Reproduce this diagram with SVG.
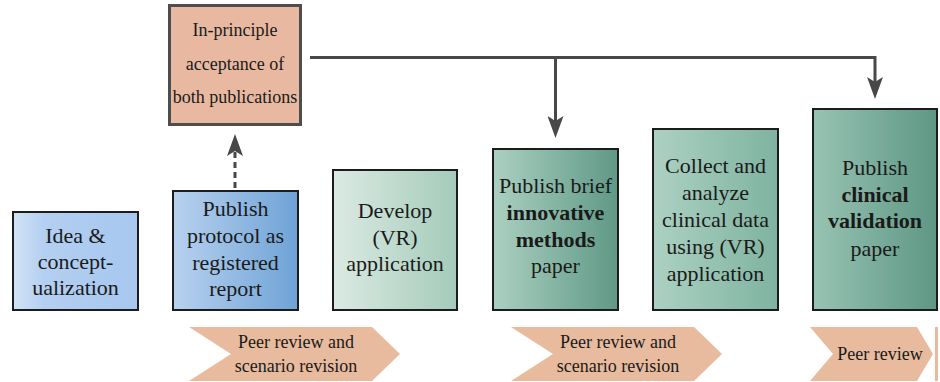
<svg xmlns="http://www.w3.org/2000/svg" width="940" height="382" viewBox="0 0 940 382">
<style>
.box{stroke:#1c1c1c;stroke-width:2}
.t{font-family:"Liberation Serif","Times New Roman",serif;font-size:22px;fill:#1a1a1a;text-anchor:middle}
.b{font-weight:bold}
.s{font-family:"Liberation Serif","Times New Roman",serif;font-size:18px;fill:#1a1a1a;text-anchor:middle}
.chev{fill:#e8bb9e}
.conn{fill:none;stroke:#484848;stroke-width:3}
</style>
<defs>
<linearGradient id="gIdea" x1="0" x2="1" y1="0" y2="0"><stop offset="0" stop-color="#d3e3f6"/><stop offset="0.25" stop-color="#b3cff1"/><stop offset="1" stop-color="#a7c7ef"/></linearGradient>
<linearGradient id="gProt" x1="0" x2="1" y1="0" y2="0"><stop offset="0" stop-color="#b8d1ef"/><stop offset="1" stop-color="#6ea3d6"/></linearGradient>
<linearGradient id="gDev" x1="0" x2="1" y1="0" y2="0"><stop offset="0" stop-color="#dbeae3"/><stop offset="1" stop-color="#a4cbb9"/></linearGradient>
<linearGradient id="gInn" x1="0" x2="1" y1="0" y2="0"><stop offset="0" stop-color="#abd0c2"/><stop offset="1" stop-color="#5f9985"/></linearGradient>
<linearGradient id="gCol" x1="0" x2="1" y1="0" y2="0"><stop offset="0" stop-color="#acd1c3"/><stop offset="1" stop-color="#7fb3a0"/></linearGradient>
<linearGradient id="gCli" x1="0" x2="1" y1="0" y2="0"><stop offset="0" stop-color="#98c3b3"/><stop offset="1" stop-color="#5e9784"/></linearGradient>
<marker id="ah" viewBox="0 0 22 16" markerWidth="22" markerHeight="16" markerUnits="userSpaceOnUse" refX="5" refY="8" orient="auto">
<path d="M0,0 L22,8 L0,16 L5,8 Z" fill="#484848"/>
</marker>
</defs>

<g id="connectors">
<path class="conn" d="M310,57.5 H875 V82" marker-end="url(#ah)"/>
<path class="conn" d="M555.5,57.5 V121" marker-end="url(#ah)"/>
<path class="conn" d="M235,188 V151" stroke-dasharray="6,4" marker-end="url(#ah)"/>
</g>

<g id="acceptance">
<rect x="169.5" y="5.5" width="131" height="119" fill="#e8b9a0" stroke="#4d4d4d" stroke-width="3"/>
<text class="t" style="font-size:18px" x="235" y="36">In-principle</text>
<text class="t" style="font-size:18px" x="235" y="70">acceptance of</text>
<text class="t" style="font-size:18px" x="235" y="103">both publications</text>
</g>

<g id="idea">
<rect class="box" x="13" y="212" width="125" height="98" fill="url(#gIdea)"/>
<text class="t" x="75.5" y="243">Idea &amp;</text>
<text class="t" x="75.5" y="269">concept-</text>
<text class="t" x="75.5" y="295">ualization</text>
</g>

<g id="protocol">
<rect class="box" x="173" y="191" width="125" height="119" fill="url(#gProt)"/>
<text class="t" x="235.5" y="216">Publish</text>
<text class="t" x="235.5" y="243">protocol as</text>
<text class="t" x="235.5" y="270">registered</text>
<text class="t" x="235.5" y="296">report</text>
</g>

<g id="develop">
<rect class="box" x="333" y="170" width="124" height="140" fill="url(#gDev)"/>
<text class="t" x="395" y="218">Develop</text>
<text class="t" x="395" y="245">(VR)</text>
<text class="t" x="395" y="271">application</text>
</g>

<g id="innovative">
<rect class="box" x="493" y="149" width="125" height="161" fill="url(#gInn)"/>
<text class="t" x="555.5" y="193">Publish brief</text>
<text class="t b" x="555.5" y="220">innovative</text>
<text class="t b" x="555.5" y="247">methods</text>
<text class="t" x="555.5" y="273">paper</text>
</g>

<g id="collect">
<rect class="box" x="653" y="129" width="125" height="181" fill="url(#gCol)"/>
<text class="t" x="715.5" y="173">Collect and</text>
<text class="t" x="715.5" y="200">analyze</text>
<text class="t" x="715.5" y="227">clinical data</text>
<text class="t" x="715.5" y="254">using (VR)</text>
<text class="t" x="715.5" y="281">application</text>
</g>

<g id="clinical">
<rect class="box" x="813" y="109" width="124" height="201" fill="url(#gCli)"/>
<text class="t" x="875" y="175">Publish</text>
<text class="t b" x="875" y="202">clinical</text>
<text class="t b" x="875" y="228">validation</text>
<text class="t" x="875" y="256">paper</text>
</g>

<g id="review1">
<polygon class="chev" points="189,327 372,327 400,354 372,381 189,381 231,354"/>
<text class="s" x="296" y="348">Peer review and</text>
<text class="s" x="296" y="372">scenario revision</text>
</g>

<g id="review2">
<polygon class="chev" points="511,327 694,327 722,354 694,381 511,381 553,354"/>
<text class="s" x="618" y="348">Peer review and</text>
<text class="s" x="618" y="372">scenario revision</text>
</g>

<g id="review3">
<polygon class="chev" points="810,327 917,327 933,354 917,381 810,381 833,354"/>
<rect class="chev" x="935" y="327" width="3" height="54"/>
<text class="s" x="880" y="360">Peer review</text>
</g>
</svg>
